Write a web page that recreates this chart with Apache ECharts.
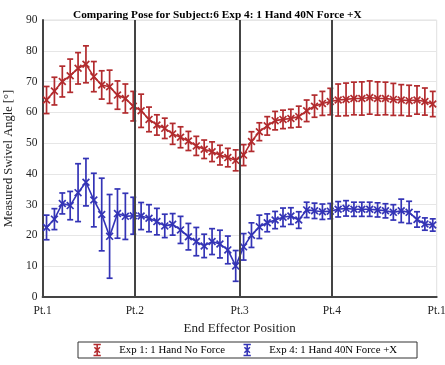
<!DOCTYPE html>
<html>
<head>
<meta charset="utf-8">
<script src="https://cdn.jsdelivr.net/npm/echarts@6/dist/echarts.min.js"></script>
<style>
  html, body { margin: 0; padding: 0; background: #fff; }
  #chart { width: 445px; height: 365px; }
</style>
</head>
<body>
<div id="chart"></div>
<script>
// Mean swivel angle per sample (deg) and its error half-width, Exp 1
const exp1Mean = [64.0, 66.9, 70.0, 71.9, 74.3, 75.6, 71.6, 68.9, 68.3, 65.6,
                  64.5, 62.0, 60.5, 57.7, 55.9, 54.8, 53.0, 51.9, 50.7, 49.1,
                  48.0, 47.2, 46.1, 45.3, 44.4, 46.1, 50.5, 53.7, 55.6, 57.3,
                  57.7, 58.0, 58.6, 60.5, 62.0, 62.9, 63.5, 64.0, 64.2, 64.5,
                  64.5, 64.8, 64.5, 64.5, 64.2, 64.0, 63.8, 64.0, 63.5, 62.7];
const exp1Err  = [4.4, 4.5, 5.0, 5.4, 5.1, 6.0, 4.9, 4.6, 5.4, 4.6,
                  4.7, 4.8, 5.4, 4.0, 3.3, 3.3, 3.4, 3.4, 3.1, 3.1,
                  3.0, 3.2, 3.2, 3.0, 3.4, 3.4, 3.2, 2.9, 3.0, 3.0,
                  3.0, 3.0, 3.4, 3.5, 3.6, 3.9, 4.3, 5.2, 5.3, 5.3,
                  5.4, 5.4, 5.4, 5.3, 5.2, 5.0, 5.0, 4.6, 4.4, 4.1];

// Exp 4 (1 hand, 40N force +X)
const exp4Mean = [22.6, 25.3, 30.4, 29.7, 33.9, 37.3, 31.5, 26.8, 19.7, 27.1,
                  26.2, 26.4, 26.3, 25.6, 24.5, 23.1, 23.6, 21.8, 19.6, 18.0,
                  16.6, 18.0, 17.2, 15.3, 10.1, 16.3, 20.1, 22.8, 24.1, 25.0,
                  25.9, 26.3, 25.0, 28.3, 28.0, 27.7, 27.9, 28.5, 28.8, 28.5,
                  28.5, 28.5, 28.3, 28.0, 27.5, 28.0, 27.5, 25.2, 23.7, 23.4];
const exp4Err  = [4.0, 3.4, 3.4, 4.6, 9.4, 7.7, 8.7, 11.8, 13.6, 8.0,
                  7.5, 6.0, 4.4, 4.4, 4.3, 3.8, 3.5, 4.4, 4.3, 4.6,
                  3.8, 4.2, 4.5, 4.5, 5.0, 4.3, 4.0, 3.8, 2.9, 2.8,
                  3.0, 2.7, 2.7, 2.5, 2.5, 2.5, 2.5, 2.5, 2.5, 2.3,
                  2.3, 2.3, 2.3, 2.3, 2.5, 3.8, 3.6, 2.5, 2.0, 2.0];

// Waypoint positions along the sample axis and their labels
const ptTicks  = [0, 11.7, 25, 36.7, 50];
const ptLabels = ['Pt.1', 'Pt.2', 'Pt.3', 'Pt.4', 'Pt.1'];
const yTicks   = [0, 10, 20, 30, 40, 50, 60, 70, 80, 90];

const seriesNames = ['Exp 1: 1 Hand No Force', 'Exp 4: 1 Hand 40N Force +X'];
const RED = '#b22b2e';
const BLUE = '#3434b6';
const SERIF = 'Liberation Serif';

// each sample sits in the middle of its unit slot on the axis
function toPoints(mean, err) {
  return mean.map((v, i) => [i + 0.5, v, err[i]]);
}

function errorBarRenderer(color) {
  return function (params, api) {
    const x = api.value(0), m = api.value(1), e = api.value(2);
    const c = api.coord([x, m]);
    const hi = api.coord([x, m + e]);
    const lo = api.coord([x, m - e]);
    const cap = 3, mk = 3.4;
    const style = { stroke: color, lineWidth: 1.7, fill: null };
    return {
      type: 'group',
      children: [
        { type: 'line', shape: { x1: c[0], y1: hi[1], x2: c[0], y2: lo[1] }, style },
        { type: 'line', shape: { x1: c[0] - cap, y1: hi[1], x2: c[0] + cap, y2: hi[1] }, style },
        { type: 'line', shape: { x1: c[0] - cap, y1: lo[1], x2: c[0] + cap, y2: lo[1] }, style },
        { type: 'line', shape: { x1: c[0] - mk, y1: c[1] - mk, x2: c[0] + mk, y2: c[1] + mk }, style },
        { type: 'line', shape: { x1: c[0] - mk, y1: c[1] + mk, x2: c[0] + mk, y2: c[1] - mk }, style }
      ]
    };
  };
}

const legendIcon = 'path://M0,0L8,0M4,0L4,12M0,12L8,12M1,3L7,9M7,3L1,9';

const chart = echarts.init(document.getElementById('chart'), null, { renderer: 'canvas' });

chart.setOption({
  animation: false,
  backgroundColor: '#fff',
  title: {
    text: 'Comparing Pose for Subject:6 Exp 4: 1 Hand 40N Force +X',
    left: 68,
    top: 5,
    textStyle: { fontFamily: SERIF, fontWeight: 'bold', fontSize: 11.3, color: '#000' }
  },
  grid: {
    left: 42.6, right: 8.3, top: 20, bottom: 68,
    outerBoundsMode: 'none',
    containLabel: false,
    show: true, borderColor: '#e0e0e0', borderWidth: 1, backgroundColor: 'transparent'
  },
  legend: {
    bottom: 7,
    left: 78,
    orient: 'horizontal',
    borderColor: '#333',
    borderWidth: 1,
    borderRadius: 0,
    padding: [0, 20, 0, 13],
    itemGap: 16,
    itemWidth: 34,
    itemHeight: 11,
    symbolKeepAspect: true,
    textStyle: { fontFamily: SERIF, fontSize: 10.8, color: '#000', lineHeight: 11 },
    data: [
      { name: seriesNames[0], icon: legendIcon, itemStyle: { color: 'none', borderColor: RED, borderWidth: 1.6 } },
      { name: seriesNames[1], icon: legendIcon, itemStyle: { color: 'none', borderColor: BLUE, borderWidth: 1.6 } }
    ]
  },
  xAxis: {
    type: 'value',
    min: ptTicks[0],
    max: ptTicks[ptTicks.length - 1],
    name: 'End Effector Position',
    nameLocation: 'middle',
    nameGap: 23,
    nameTextStyle: { fontFamily: SERIF, fontSize: 13, color: '#222' },
    axisLine: { show: true, lineStyle: { color: '#444', width: 2 } },
    axisTick: { show: false },
    splitLine: { show: false },
    axisLabel: {
      customValues: ptTicks,
      showMinLabel: true,
      showMaxLabel: true,
      margin: 8,
      fontFamily: SERIF, fontSize: 11.5, color: '#222',
      formatter: function (v) {
        const k = ptTicks.findIndex(t => Math.abs(t - v) < 1e-6);
        return k >= 0 ? ptLabels[k] : '';
      }
    }
  },
  yAxis: {
    type: 'value',
    min: yTicks[0],
    max: yTicks[yTicks.length - 1],
    interval: 10,
    name: 'Measured Swivel Angle [°]',
    nameLocation: 'middle',
    nameGap: 27,
    nameTextStyle: { fontFamily: SERIF, fontSize: 12.5, color: '#222' },
    axisLine: { show: true, lineStyle: { color: '#444', width: 2 } },
    axisTick: { show: false },
    splitLine: { show: true, lineStyle: { color: '#e6e6e6', width: 1 } },
    axisLabel: { margin: 5, fontFamily: SERIF, fontSize: 11.5, color: '#222' }
  },
  series: [
    {
      name: seriesNames[0],
      type: 'line',
      data: toPoints(exp1Mean, exp1Err).map(p => [p[0], p[1]]),
      showSymbol: false,
      color: RED,
      lineStyle: { color: RED, width: 1.6 },
      z: 3,
      markLine: {
        silent: true,
        symbol: 'none',
        label: { show: false },
        lineStyle: { color: '#444', width: 2, type: 'solid' },
        data: ptTicks.slice(1, -1).map(t => ({ xAxis: t }))
      }
    },
    {
      name: seriesNames[0],
      type: 'custom',
      renderItem: errorBarRenderer(RED),
      data: toPoints(exp1Mean, exp1Err),
      encode: { x: 0, y: 1 },
      color: RED,
      z: 4
    },
    {
      name: seriesNames[1],
      type: 'line',
      data: toPoints(exp4Mean, exp4Err).map(p => [p[0], p[1]]),
      showSymbol: false,
      color: BLUE,
      lineStyle: { color: BLUE, width: 1.6 },
      z: 3
    },
    {
      name: seriesNames[1],
      type: 'custom',
      renderItem: errorBarRenderer(BLUE),
      data: toPoints(exp4Mean, exp4Err),
      encode: { x: 0, y: 1 },
      color: BLUE,
      z: 4
    }
  ]
});
</script>
</body>
</html>
